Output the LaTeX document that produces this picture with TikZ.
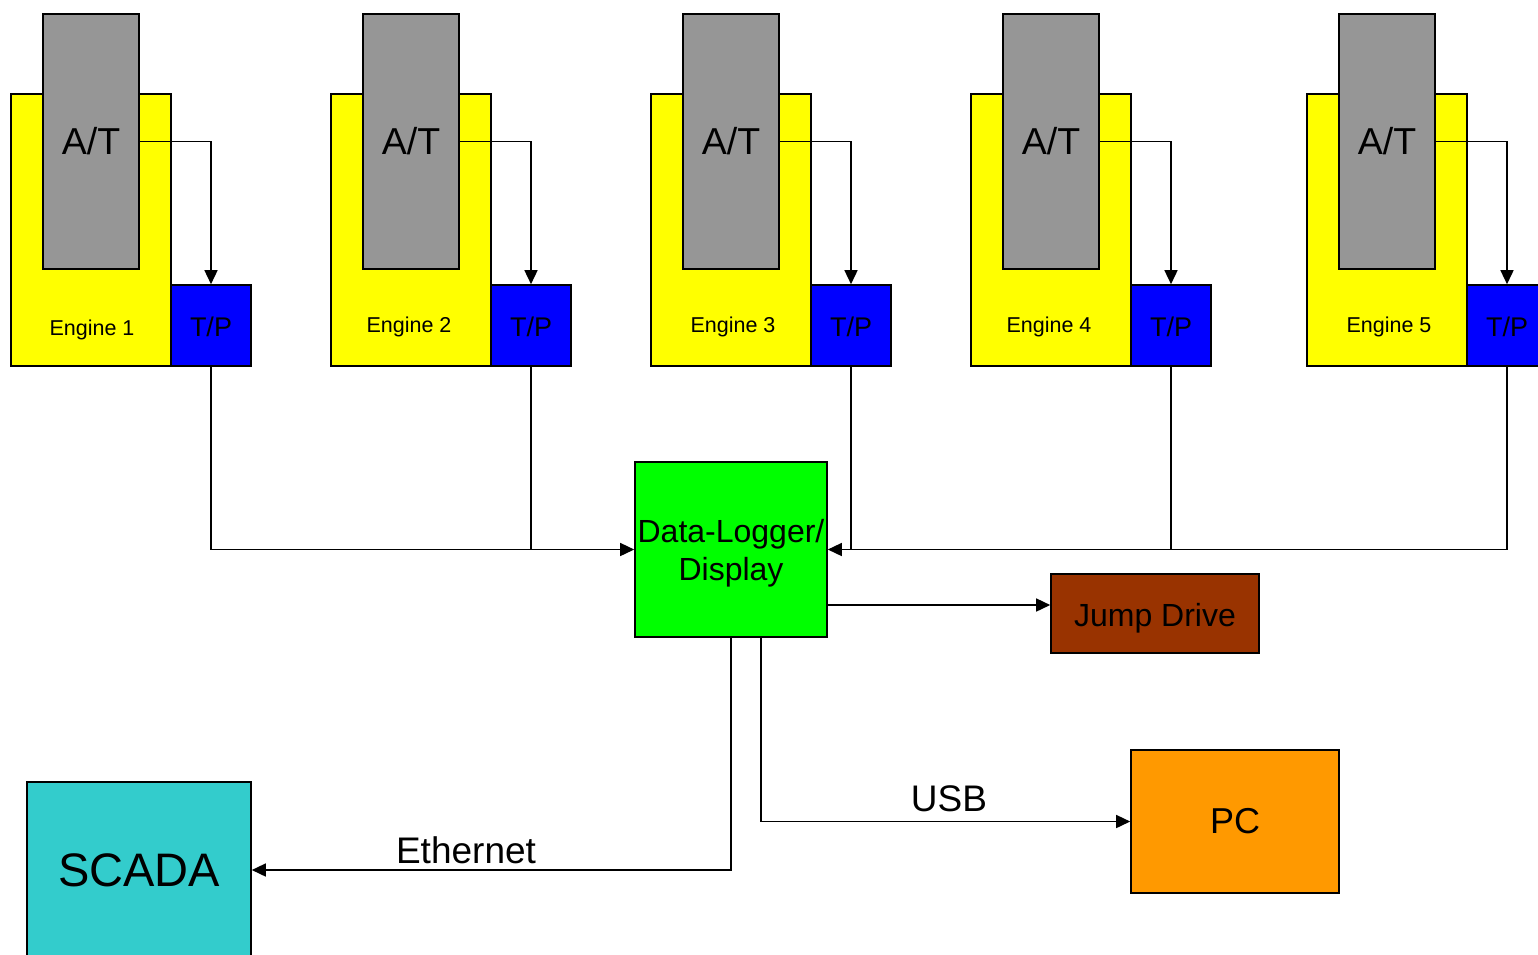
\documentclass[tikz,border=0pt]{standalone}
\usepackage{fontspec}
\setmainfont{Liberation Sans}
\usetikzlibrary{arrows.meta,calc}
\definecolor{atgray}{HTML}{969696}
\definecolor{engyellow}{HTML}{FFFF00}
\definecolor{tpblue}{HTML}{0000FF}
\definecolor{dlgreen}{HTML}{00FF00}
\definecolor{jdbrown}{HTML}{993300}
\definecolor{pcorange}{HTML}{FF9900}
\definecolor{scadacyan}{HTML}{33CCCC}
\tikzset{
  box/.style={draw=black, line width=1.6pt, rectangle, inner sep=0pt, anchor=center},
  txt/.style={inner sep=0pt, anchor=center},
  conn/.style={draw=black, line width=1.5pt},
  arr/.style={conn, -{Triangle[length=14pt,width=13pt]}},
}
\begin{document}
\begin{tikzpicture}[x=1pt,y=-1pt]
\useasboundingbox (0,0) rectangle (1538,954);
\foreach \i/\ox/\lx/\ly in {1/0/92/330, 2/320/409/327, 3/640/733/327, 4/960/1049/327, 5/1296/1389/327}{
  \node[box, fill=engyellow, minimum width=160pt, minimum height=272pt] (eng\i) at (\ox+91,230) {};
  \node[box, fill=atgray, minimum width=96pt, minimum height=255pt, font=\fontsize{37.5}{45}\selectfont] (at\i) at (\ox+91,141.5) {A/T};
  \node[box, fill=tpblue, minimum width=80pt, minimum height=81pt] (tp\i) at (\ox+211,325.5) {};
  \node[txt, font=\fontsize{27}{32}\selectfont] (tptext\i) at (\ox+211,327) {T/P};
  \node[txt, font=\fontsize{21.5}{26}\selectfont] (lab\i) at (\lx,\ly) {Engine \i};
  \draw[arr] (at\i.east) -| (tp\i.north);
}
\node[box, fill=dlgreen, minimum width=192pt, minimum height=175pt] (dl) at (731,549.5) {};
\node[txt, align=center, font=\fontsize{32}{38}\selectfont] (dltext) at (731,553) {Data-Logger/\\Display};
\node[box, fill=jdbrown, minimum width=208pt, minimum height=79pt] (jd) at (1155,613.5) {};
\node[txt, font=\fontsize{32}{38}\selectfont] (jdtext) at (1155,618) {Jump Drive};
\node[box, fill=pcorange, minimum width=208pt, minimum height=143pt, font=\fontsize{36}{43}\selectfont] (pc) at (1235,821.5) {PC};
\node[box, fill=scadacyan, minimum width=224pt, minimum height=176pt, font=\fontsize{47}{56}\selectfont] (scada) at (139,870) {SCADA};
% inputs
\draw[arr] (tp1.south) |- (dl.west);
\draw[conn] (tp2.south) -- (tp2.south |- dl.west);
\draw[arr] (tp5.south) |- (dl.east);
\draw[conn] (tp4.south) -- (tp4.south |- dl.east);
\draw[conn] (tp3.south) -- (tp3.south |- dl.east);
% outputs
\coordinate (jdy) at (0,605);
\draw[arr] (dl.east |- jdy) -- (jd.west |- jdy);
\draw[arr] (dl.south) |- (scada.east);
\draw[arr] ([xshift=30pt]dl.south) |- (pc.west);
\node[txt, font=\fontsize{37}{44}\selectfont] (eth) at (466,850) {Ethernet};
\node[txt, font=\fontsize{37}{44}\selectfont] (usb) at (949,799) {USB};
\end{tikzpicture}
\end{document}
